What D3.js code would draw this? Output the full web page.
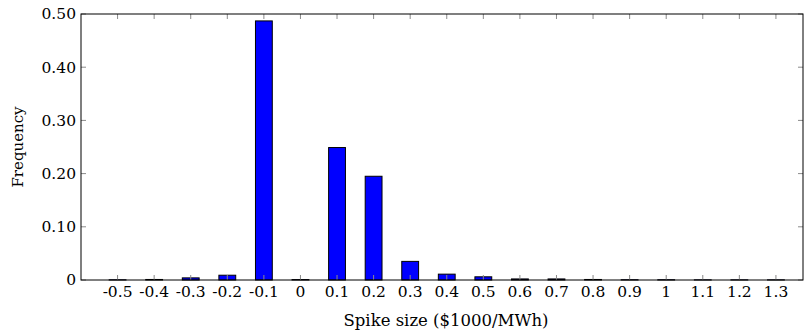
<!DOCTYPE html>
<html>
<head>
<meta charset="utf-8">
<script src="https://cdn.jsdelivr.net/npm/d3@7"></script>
<style>
  body { margin: 0; background: #fff; }
</style>
</head>
<body>
<div class="svg-container"></div>
<script>
// Data
var bins = [-0.5, -0.4, -0.3, -0.2, -0.1, 0, 0.1, 0.2, 0.3, 0.4, 0.5, 0.6, 0.7, 0.8, 0.9, 1, 1.1, 1.2, 1.3];
var freq = [0.0004, 0.001, 0.004, 0.009, 0.487, 0.0008, 0.249, 0.195, 0.035, 0.011, 0.006, 0.002, 0.002, 0.001, 0.0005, 0.0005, 0.0003, 0.0003, 0.0003];
var yTicks = [0, 0.1, 0.2, 0.3, 0.4, 0.5];

var W = 804, H = 335;
var margin = {top: 14, right: 1, bottom: 55, left: 81},
    width = W - margin.left - margin.right,
    height = H - margin.top - margin.bottom;

var FONT = "DejaVu Serif";
var FS = 15.5;

var svg = d3.select(".svg-container").append("svg")
    .attr("width", W)
    .attr("height", H)
    .style("font-family", FONT)
  .append("g")
    .attr("transform", "translate(" + margin.left + "," + margin.top + ")");

var data = [];
for (let i = 0; i < bins.length; i++) {
    data.push({bin: bins[i], freq: freq[i]});
}

// Scales
const xScale = d3.scaleLinear().domain([-0.6, 1.374]).range([0, width]);
const yScale = d3.scaleLinear().domain([0, 0.5]).range([height, 0]);
const step = xScale(0.1) - xScale(0);
const barW = step * 0.46;

// Bars
svg.append("g")
    .selectAll("rect")
    .data(data)
    .enter()
    .append("rect")
      .attr("x", function(d) { return xScale(d.bin) - barW / 2; })
      .attr("y", function(d) { return yScale(d.freq); })
      .attr("width", barW)
      .attr("height", function(d) { return height - yScale(d.freq); })
      .attr("fill", "#0000ff")
      .attr("stroke", "#000")
      .attr("stroke-width", 1);

// Ticks (pgfplots style, pointing inward, mirrored)
const tickLen = 5;
const ticks = svg.append("g").attr("stroke", "#8a8a8a").attr("stroke-width", 1);
bins.forEach(function(b) {
    ticks.append("line").attr("x1", xScale(b)).attr("x2", xScale(b))
        .attr("y1", height).attr("y2", height - tickLen);
    ticks.append("line").attr("x1", xScale(b)).attr("x2", xScale(b))
        .attr("y1", 0).attr("y2", tickLen);
});
yTicks.forEach(function(t) {
    ticks.append("line").attr("x1", 0).attr("x2", tickLen)
        .attr("y1", yScale(t)).attr("y2", yScale(t));
    ticks.append("line").attr("x1", width).attr("x2", width - tickLen)
        .attr("y1", yScale(t)).attr("y2", yScale(t));
});

// Axis box
svg.append("rect")
    .attr("x", 0).attr("y", 0)
    .attr("width", width).attr("height", height)
    .attr("fill", "none")
    .attr("stroke", "#000")
    .attr("stroke-width", 1);

// Tick labels
svg.append("g")
    .selectAll("text")
    .data(bins)
    .enter()
    .append("text")
      .attr("x", function(d) { return xScale(d); })
      .attr("y", height + 17)
      .attr("text-anchor", "middle")
      .style("font-family", FONT)
      .style("font-size", FS + "px")
      .text(function(d) { return String(d); });

svg.append("g")
    .selectAll("text")
    .data(yTicks)
    .enter()
    .append("text")
      .attr("x", -5)
      .attr("y", function(d) { return yScale(d); })
      .attr("dy", "0.35em")
      .attr("text-anchor", "end")
      .style("font-family", FONT)
      .style("font-size", FS + "px")
      .text(function(d) { return d === 0 ? "0" : d3.format(".2f")(d); });

// Axis titles
svg.append("text")
    .attr("x", 446 - margin.left)
    .attr("y", height + 46)
    .attr("text-anchor", "middle")
    .style("font-family", FONT)
    .style("font-size", "16.5px")
    .text("Spike size ($1000/MWh)");

svg.append("text")
    .attr("transform", "translate(" + (23 - margin.left) + "," + (147 - margin.top) + ") rotate(-90)")
    .attr("text-anchor", "middle")
    .style("font-family", FONT)
    .style("font-size", "15px")
    .text("Frequency");
</script>
</body>
</html>
